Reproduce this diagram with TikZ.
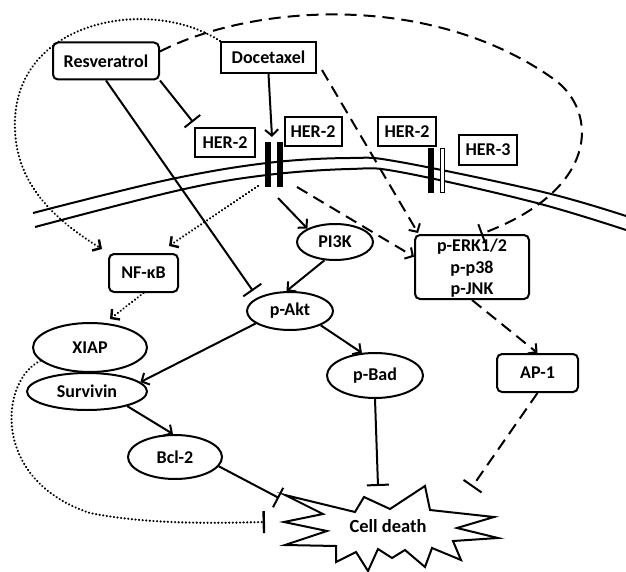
\documentclass[tikz,border=0pt]{standalone}
\usepackage{fontspec}
\setmainfont{Carlito}
\usetikzlibrary{arrows.meta,shapes.geometric,calc}
\begin{document}
\begin{tikzpicture}[x=1pt,y=-1pt,
  every node/.style={font=\bfseries\fontsize{18}{21.5}\selectfont, inner sep=0pt},
  box/.style={draw, line width=2pt, rectangle},
  rbox/.style={box, rounded corners=5pt},
  ell/.style={draw, line width=2pt, ellipse},
  conn/.style={line width=2pt},
  act/.style={conn, -{Straight Barb[length=6pt,width=13pt]}},
  inh/.style={conn, -{Bar[width=22pt]}},
  dsh/.style={dash pattern=on 12pt off 7pt},
  dot/.style={dash pattern=on 0.01pt off 3.6pt, line cap=round, line width=2.4pt},
  memb/.style={line width=2pt},
]
\useasboundingbox[fill=white] (0,0) rectangle (626,572);

% membrane
\draw[memb] plot[smooth, tension=0.6] coordinates {(33,213) (167,180) (267,163) (350,158) (400,162) (543,192) (626,216)};
\draw[memb] plot[smooth, tension=0.6] coordinates {(35,227) (180,190) (267,175) (350,169) (400,172) (533,202) (626,230)};

% receptors
\fill (265,142) rectangle (271,187);
\fill (277,142) rectangle (283,187);
\fill (428,148) rectangle (433.5,193);
\draw[line width=1.4pt, fill=white] (440.5,148.5) rectangle (444.5,192.5);
\coordinate (rtop) at (272,137);
\coordinate (rb1) at (258,186);
\coordinate (rb2) at (278,198);
\coordinate (rb3) at (297,187);

% nodes
\node[rbox, minimum width=106pt, minimum height=37pt] (res) at (106,61) {Resveratrol};
\node[box, minimum width=95pt, minimum height=31pt] (doc) at (268.5,57.5) {Docetaxel};
\node[box, minimum width=60pt, minimum height=29pt] (her2a) at (225,142.5) {HER-2};
\node[box, minimum width=57pt, minimum height=29pt] (her2b) at (313,131.5) {HER-2};
\node[box, minimum width=58pt, minimum height=29pt] (her2c) at (407,131.5) {HER-2};
\node[box, minimum width=58pt, minimum height=30pt] (her3) at (488,150) {HER-3};
\node[rbox, minimum width=69pt, minimum height=38pt] (nfkb) at (143.5,273) {NF-κB};
\node[ell, minimum width=76pt, minimum height=36pt] (pi3k) at (335,242) {PI3K};
\node[ell, minimum width=86pt, minimum height=38pt] (pakt) at (290,311) {p-Akt};
\node[rbox, minimum width=114pt, minimum height=64pt, align=center, text depth=0pt] (perk) at (472,267) {p-ERK1/2\\p-p38\\p-JNK};
\node[ell, minimum width=114pt, minimum height=49pt] (xiap) at (90,347.5) {XIAP};
\node[ell, minimum width=120pt, minimum height=37pt, fill=white] (surv) at (87,391.5) {Survivin};
\node[ell, minimum width=94pt, minimum height=44pt] (bcl2) at (175,457) {Bcl-2};
\node[ell, minimum width=96pt, minimum height=45pt] (pbad) at (375,375.5) {p-Bad};
\node[rbox, minimum width=81pt, minimum height=38pt] (ap1) at (537.5,373) {AP-1};

% cell death starburst
\draw[line width=2pt, fill=white, line join=miter] (285,495) -- (355,512) -- (364,497) -- (390,509) -- (425,486) -- (430,510) -- (494,517) -- (457,528) -- (498,538) -- (453,541) -- (461,560) -- (432,548) -- (425,567) -- (405,550) -- (392,558) -- (378,549) -- (368,571) -- (356,552) -- (336,562) -- (336,546) -- (285,545) -- (327,531) -- (284,522) -- (323,514) -- cycle;
\node[font=\bfseries\fontsize{18.5}{21}\selectfont] (cd) at (388,526) {Cell death};
\coordinate (cdA) at (279,498);
\coordinate (cdB) at (265,522);
\coordinate (cdC) at (378,486);
\coordinate (cdD) at (472,487);

% connectors
\draw[act] (doc.south) -- (rtop);
\draw[inh, -{Bar[width=20pt]}] (res.south east) -- ($(her2a.north west)+(-1,-5)$);
\draw[inh] (res.south) -- ($(pakt.north west)+(-6,-6)$);
\draw[act, dsh] ($(doc.south east)+(5,-4)$) -- ($(perk.north west)+(4,-1)$);
\draw[act, dsh] (rb3) -- (perk.170);
\draw[act] (rb2) -- (pi3k.north west);
\draw[act, dot] (rb1) -- ($(nfkb.north east)+(-10,-7)$);
\draw[act, dot] (doc.north west) .. controls (150,-5) and (10,20) .. (15,130) .. controls (17,185) and (55,220) .. ($(nfkb.north west)+(-6,-4)$);
\draw[act, dot] (nfkb.south) -- ($(xiap.north)+(20,-3)$);
\draw[act] (pi3k.240) -- (pakt.100);
\draw[act] (pakt.200) -- (surv.10);
\draw[act] (pakt.-25) -- (pbad.120);
\draw[act] (surv.-20) -- (bcl2.95);
\draw[inh] (bcl2.-12) -- (cdA);
\draw[inh, dot] (xiap.195) .. controls (0,380) and (-10,480) .. (90,513) .. controls (150,525) and (220,523) .. (cdB);
\draw[inh] (pbad.south) -- (cdC);
\draw[act, dsh] (perk.south) -- (ap1.north);
\draw[inh, dsh] (ap1.south) -- (cdD);
\draw[inh, dsh, -{Bar[width=20pt]}] (res.10) .. controls (250,5) and (430,-10) .. (555,80) .. controls (598,112) and (600,190) .. (perk.75);
\end{tikzpicture}
\end{document}
